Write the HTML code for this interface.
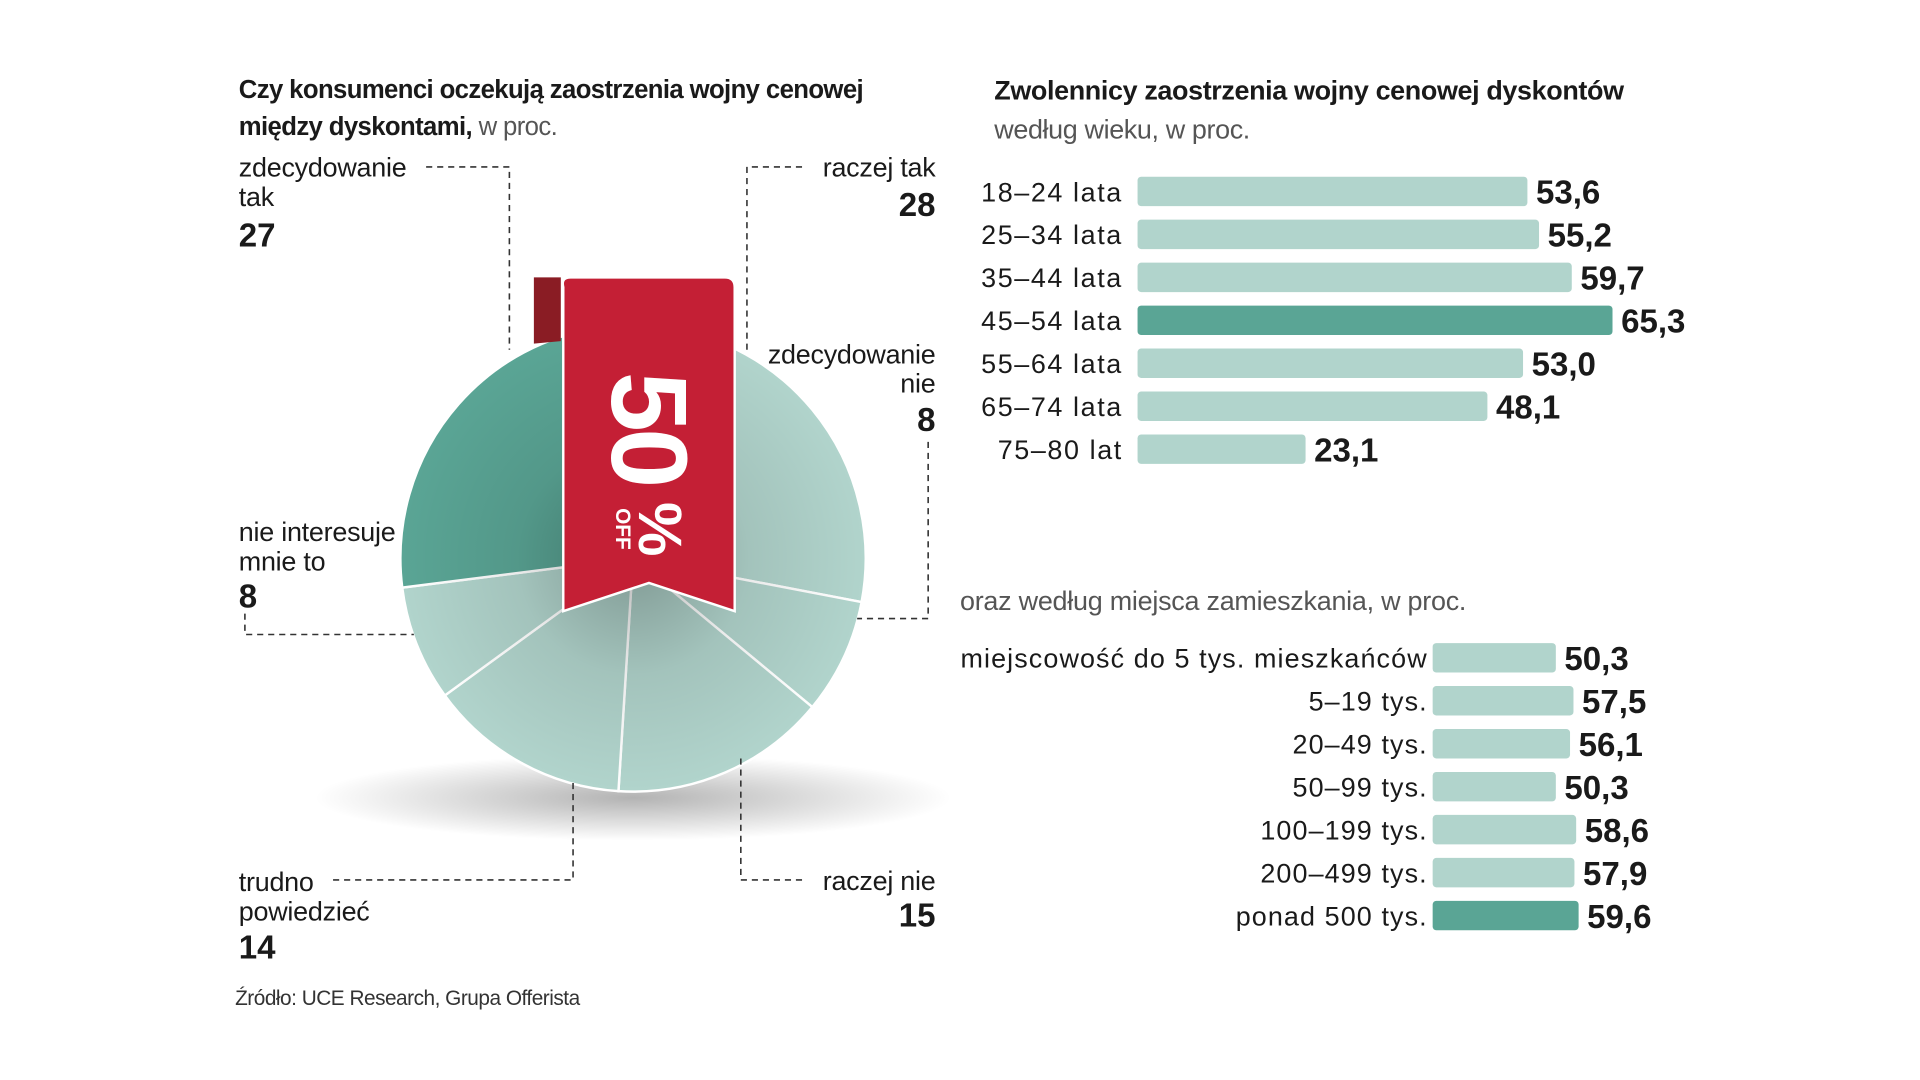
<!DOCTYPE html>
<html><head><meta charset="utf-8"><style>
html,body{margin:0;padding:0;background:#fff;}
svg{display:block;font-family:"Liberation Sans",sans-serif;}
.t{font-size:22px;fill:#1a1a1a;letter-spacing:-0.2px}
.v{font-family:"Liberation Sans Narrow","Liberation Sans",sans-serif;font-weight:bold;font-size:27px;fill:#1a1a1a}
.d{stroke:#333;stroke-width:1.3;stroke-dasharray:5,4;fill:none}
</style></head><body>
<svg id="chart" width="1920" height="1080" viewBox="0 0 1568 880" preserveAspectRatio="none">
<defs>
<radialGradient id="shade" cx="0.5" cy="0.5" r="0.5">
<stop offset="0" stop-color="#000" stop-opacity="0.28"/>
<stop offset="0.5" stop-color="#000" stop-opacity="0.08"/>
<stop offset="1" stop-color="#000" stop-opacity="0"/>
</radialGradient>
<radialGradient id="shadow" cx="0.5" cy="0.5" r="0.5">
<stop offset="0" stop-color="#000" stop-opacity="0.3"/>
<stop offset="1" stop-color="#000" stop-opacity="0"/>
</radialGradient>
</defs>
<text x="195" y="80" style="font-size:21px;font-weight:bold;fill:#1a1a1a;letter-spacing:-0.5px">Czy konsumenci oczekują zaostrzenia wojny cenowej</text>
<text x="195" y="110" style="font-size:21px;fill:#1a1a1a;letter-spacing:-0.5px"><tspan font-weight="bold">między dyskontami,</tspan><tspan fill="#555"> w proc.</tspan></text>
<ellipse cx="517" cy="650" rx="260" ry="35" fill="url(#shadow)"/>
<g id="pie"></g>
<circle cx="517" cy="455" r="190" fill="url(#shade)"/>
<g>
<path class="d" d="M348 136 H416 V285"/>
<path class="d" d="M655 136 H610 V285"/>
<path class="d" d="M758 360 V504 H700"/>
<path class="d" d="M200 500 V517 H338"/>
<path class="d" d="M272 717 H468 V635"/>
<path class="d" d="M655 717 H605 V618"/>
</g>
<g>
<text class="t" x="195" y="144">zdecydowanie</text><text class="t" x="195" y="168">tak</text><text class="v" x="195" y="201">27</text>
<text class="t" x="764" y="144" text-anchor="end">raczej tak</text><text class="v" x="764" y="176" text-anchor="end">28</text>
<text class="t" x="764" y="296" text-anchor="end">zdecydowanie</text><text class="t" x="764" y="320" text-anchor="end">nie</text><text class="v" x="764" y="351" text-anchor="end">8</text>
<text class="t" x="195" y="441">nie interesuje</text><text class="t" x="195" y="465">mnie to</text><text class="v" x="195" y="495">8</text>
<text class="t" x="195" y="726">trudno</text><text class="t" x="195" y="750">powiedzieć</text><text class="v" x="195" y="781">14</text>
<text class="t" x="764" y="725" text-anchor="end">raczej nie</text><text class="v" x="764" y="755" text-anchor="end">15</text>
</g>
<g>
<path d="M436 226 H458 V278 L436 280 Z" fill="#8a1c24"/>
<path d="M466 226 H592 Q600 226 600 234 V498 L530 475 L460 498 V234 Q458 226 466 226 Z" fill="#c41f35" stroke="#fff" stroke-width="2"/>
<text x="0" y="0" transform="translate(500,303) rotate(90)" style="font-size:88px;font-weight:bold;fill:#fff;letter-spacing:-3px">50</text>
<text x="0" y="0" transform="translate(522,409) rotate(90)" style="font-size:50px;font-weight:bold;fill:#fff">%</text>
<text x="0" y="0" transform="translate(503,414) rotate(90)" style="font-size:17px;font-weight:bold;fill:#fff">OFF</text>
</g>
<text x="192" y="819" style="font-size:17px;fill:#333;letter-spacing:-0.4px">Źródło: UCE Research, Grupa Offerista</text>
<text x="812" y="81" style="font-size:22px;font-weight:bold;fill:#1a1a1a;letter-spacing:-0.3px">Zwolennicy zaostrzenia wojny cenowej dyskontów</text>
<text x="812" y="113" style="font-size:22px;fill:#555;letter-spacing:-0.3px">według wieku, w proc.</text>
<g id="age"></g>
<text x="784" y="497" style="font-size:22px;fill:#555;letter-spacing:-0.2px">oraz według miejsca zamieszkania, w proc.</text>
<g id="place"></g>
</svg>
<script>
const pieLabels=["raczej tak","zdecydowanie nie","raczej nie","trudno powiedzieć","nie interesuje mnie to","zdecydowanie tak"];
const pieValues=[28,8,15,14,8,27];
const ageCats=["18–24 lata","25–34 lata","35–44 lata","45–54 lata","55–64 lata","65–74 lata","75–80 lat"];
const ageValues=[53.6,55.2,59.7,65.3,53.0,48.1,23.1];
const ageLabels=["53,6","55,2","59,7","65,3","53,0","48,1","23,1"];
const placeCats=["miejscowość do 5 tys. mieszkańców","5–19 tys.","20–49 tys.","50–99 tys.","100–199  tys.","200–499 tys.","ponad 500 tys."];
const placeValues=[50.3,57.5,56.1,50.3,58.6,57.9,59.6];
const placeLabels=["50,3","57,5","56,1","50,3","58,6","57,9","59,6"];
const NS="http://www.w3.org/2000/svg";
function mk(t,a,p){const e=document.createElementNS(NS,t);for(const k in a)e.setAttribute(k,a[k]);p.appendChild(e);return e;}
const pie=document.getElementById('pie');const cx=517,cy=455,R=190;
const tot=pieValues.reduce((a,b)=>a+b,0);let ang=0;
pieValues.forEach((v,i)=>{const a0=ang,a1=ang+v/tot*2*Math.PI;ang=a1;
const x0=cx+R*Math.sin(a0),y0=cy-R*Math.cos(a0),x1=cx+R*Math.sin(a1),y1=cy-R*Math.cos(a1);
const p=mk('path',{d:`M${cx} ${cy} L${x0} ${y0} A${R} ${R} 0 ${a1-a0>Math.PI?1:0} 1 ${x1} ${y1} Z`,fill:i===5?'#5aa595':'#b1d4cc',stroke:'#fff','stroke-width':2},pie);

});
function bars(id,cats,vals,labs,x0,y0,step,scale,hi,labX,ls){const g=document.getElementById(id);
cats.forEach((c,i)=>{const y=y0+i*step;const w=vals[i]*scale;
const r=mk('rect',{x:x0,y:y-12,width:w,height:24,rx:3,fill:i===hi?'#5aa595':'#b1d4cc'},g);


const t=mk('text',{x:labX,y:y+8,'text-anchor':'end','class':'t',style:'letter-spacing:'+ls+'px'},g);t.textContent=c;


const v=mk('text',{x:x0+w+7,y:y+10,'class':'v'},g);v.textContent=labs[i];

});}
bars('age',ageCats,ageValues,ageLabels,929,156,35,5.94,3,917,1.3);
bars('place',placeCats,placeValues,placeLabels,1170,536,35,2.0,6,1166,0.9);
</script>
</body></html>
